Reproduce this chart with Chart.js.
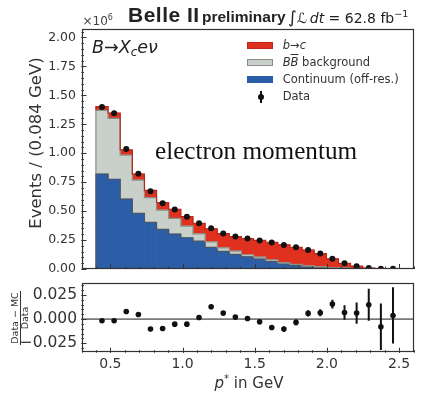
<!DOCTYPE html>
<html><head><meta charset="utf-8">
<script src="https://cdn.jsdelivr.net/npm/chart.js@4.4.0/dist/chart.umd.min.js"></script>
<style>
html,body{margin:0;padding:0;background:#fff;}
#wrap{position:relative;width:425px;height:394px;overflow:hidden;font-family:'DejaVu Sans',sans-serif;color:#333;}
canvas{position:absolute;left:0;}
.t{position:absolute;white-space:nowrap;line-height:1;}
.sw{position:absolute;width:26px;height:7px;box-sizing:border-box;}
.rot{position:absolute;white-space:nowrap;line-height:1;transform:translate(-50%,-50%) rotate(-90deg);}
</style></head><body>
<div id="wrap">
<canvas id="main" width="425" height="276" style="top:0;width:425px;height:276px"></canvas>
<canvas id="ratio" width="425" height="118" style="top:276px;width:425px;height:118px"></canvas>

<div class="t" style="left:82.5px;top:13.8px;font-size:12px;color:#444">×10<sup style="font-size:8px;vertical-align:5px">6</sup></div>
<div class="t" style="left:128px;top:4px;font-family:'Liberation Sans',Arial,sans-serif;font-weight:bold;font-size:21px;letter-spacing:0.5px;color:#222">Belle II</div>
<div class="t" style="left:202px;top:8.6px;font-family:'Liberation Sans',Arial,sans-serif;font-weight:bold;font-size:15.5px;color:#222">preliminary</div>
<div class="t" style="left:288px;top:9.2px;font-size:14px;color:#222"><span style="font-size:17px">∫</span><i>ℒ</i>&thinsp;<i>dt</i> = 62.8 fb<sup style="font-size:9.5px;vertical-align:6px">−1</sup></div>

<div class="t" style="left:92px;top:38.5px;font-size:17.5px;color:#222"><i>B</i>→<i>X</i><sub style="font-size:12px;vertical-align:-3px"><i>c</i></sub><i>eν</i></div>
<div class="t" style="left:155px;top:137.5px;font-family:'Liberation Serif','DejaVu Serif',serif;font-size:25.2px;color:#111">electron momentum</div>

<div class="sw" style="left:247px;top:41.5px;background:#e0301e;border:1px solid #c02a1a"></div>
<div class="sw" style="left:247px;top:58.8px;background:#c9d0c9;border:1px solid #8a8f8a"></div>
<div class="sw" style="left:247px;top:75.8px;background:#2b5ea7;border:1px solid #2b5ea7"></div>
<div style="position:absolute;left:259.5px;top:90.5px;width:2px;height:12.5px;background:#111"></div>
<div style="position:absolute;left:257.5px;top:93.7px;width:6px;height:6px;border-radius:50%;background:#111"></div>
<div class="t" style="left:282.7px;top:39.5px;font-size:11.5px"><i>b</i>→<i>c</i></div>
<div class="t" style="left:282.7px;top:56.8px;font-size:11.5px"><i>B</i><i style="text-decoration:overline">B</i> background</div>
<div class="t" style="left:282.7px;top:73.8px;font-size:11.5px">Continuum (off-res.)</div>
<div class="t" style="left:282.7px;top:91.2px;font-size:11.5px">Data</div>

<div class="rot" style="left:36px;top:143px;font-size:16.5px">Events / (0.084 GeV)</div>
<div class="rot" style="left:14.5px;top:318px;font-size:9.5px">Data − MC</div>
<div style="position:absolute;left:19.5px;top:291px;width:1px;height:54px;background:#333"></div>
<div class="rot" style="left:25px;top:318px;font-size:9.5px">Data</div>
<div class="t" style="left:249px;top:374px;font-size:15px;transform:translateX(-50%)"><i>p</i><sup style="font-size:10px;vertical-align:6px">*</sup> in GeV</div>
</div>

<script>
// ---- data (×10^6 events per 0.084 GeV bin) ----
const binCenters = [0.442, 0.526, 0.610, 0.694, 0.778, 0.862, 0.946, 1.030, 1.114, 1.198, 1.282, 1.366, 1.450,
                    1.534, 1.618, 1.702, 1.786, 1.870, 1.954, 2.038, 2.122, 2.206, 2.290, 2.374, 2.458];
const continuum = [0.820, 0.775, 0.604, 0.480, 0.403, 0.342, 0.301, 0.270, 0.240, 0.187, 0.153, 0.127, 0.105,
                   0.086, 0.063, 0.043, 0.029, 0.018, 0.012, 0.008, 0.005, 0.003, 0.0015, 0.0007, 0.0004];
const bbBackground = [0.550, 0.525, 0.380, 0.288, 0.213, 0.167, 0.136, 0.100, 0.063, 0.048, 0.030, 0.027, 0.018,
                      0.016, 0.015, 0.012, 0.011, 0.009, 0.006, 0.004, 0.002, 0.001, 0.0005, 0.0003, 0.0002];
const bToC = [0.032, 0.047, 0.044, 0.051, 0.063, 0.064, 0.079, 0.083, 0.092, 0.112, 0.122, 0.126, 0.140,
              0.145, 0.153, 0.154, 0.148, 0.136, 0.114, 0.075, 0.042, 0.020, 0.006, 0.002, 0.001];
const dataCounts = [1.400, 1.345, 1.036, 0.823, 0.672, 0.567, 0.513, 0.451, 0.396, 0.351, 0.307, 0.281, 0.263,
                    0.246, 0.229, 0.207, 0.187, 0.164, 0.133, 0.088, 0.049, 0.024, 0.008, 0.003, 0.0015];
const ratioValues = [-0.0017, -0.0017, 0.0079, 0.0048, -0.0103, -0.0097, -0.0052, -0.0052, 0.0017, 0.0128, 0.0062, 0.0021, 0.0007,
                     -0.0028, -0.0086, -0.0103, -0.0034, 0.0059, 0.0066, 0.0155, 0.0069, 0.0062, 0.0148, -0.0079, 0.0038];
const ratioErrors = [0.0010, 0.0010, 0.0012, 0.0013, 0.0014, 0.0015, 0.0016, 0.0017, 0.0018, 0.0020, 0.0021, 0.0022, 0.0023,
                     0.0025, 0.0026, 0.0027, 0.0029, 0.0032, 0.0036, 0.0045, 0.0075, 0.0110, 0.0165, 0.0240, 0.0290];

const xTickValues = [0.5, 1.0, 1.5, 2.0, 2.5];
const xTickLabels = ['0.5', '1.0', '1.5', '2.0', '2.5'];
const yTickValues = [0, 0.25, 0.5, 0.75, 1.0, 1.25, 1.5, 1.75, 2.0];
const yTickLabels = ['0.00', '0.25', '0.50', '0.75', '1.00', '1.25', '1.50', '1.75', '2.00'];
const ratioTickValues = [-0.025, 0, 0.025];
const ratioTickLabels = ['\u22120.025', '0.000', '0.025'];

const COL = { red: '#e0301e', redEdge: '#b8281a', gray: '#c9d0c9', grayEdge: '#8a8f8a', blue: '#2b5ea7', blueEdge: '#4a5566' };
const FONT = 'DejaVu Sans';

function range(a, b, step) { const out = []; for (let v = a; v <= b + 1e-9; v += step) out.push(+v.toFixed(6)); return out; }
function noPad(s) { s.paddingTop = 0; s.paddingBottom = 0; s.paddingLeft = 0; s.paddingRight = 0; }

const frameTicks = {
  id: 'frameTicks',
  afterDraw(chart, args, o) {
    const { ctx, chartArea: a, scales } = chart;
    ctx.save();
    ctx.strokeStyle = '#333'; ctx.lineWidth = 1;
    const seg = (x1, y1, x2, y2) => { ctx.beginPath(); ctx.moveTo(x1, y1); ctx.lineTo(x2, y2); ctx.stroke(); };
    o.xMinor.forEach(v => { const p = Math.round(scales.x.getPixelForValue(v)) + 0.5; seg(p, a.bottom, p, a.bottom - 2.5); });
    o.xMajor.forEach(v => { const p = Math.round(scales.x.getPixelForValue(v)) + 0.5; seg(p, a.bottom, p, a.bottom - 5); });
    o.yMinor.forEach(v => { const p = Math.round(scales.y.getPixelForValue(v)) + 0.5; seg(a.left, p, a.left + 2.5, p); });
    o.yMajor.forEach(v => { const p = Math.round(scales.y.getPixelForValue(v)) + 0.5; seg(a.left, p, a.left + 5, p); });
    ctx.lineWidth = 1.2;
    ctx.strokeRect(Math.round(a.left) + 0.5, Math.round(a.top) + 0.5, Math.round(a.width) - 1, Math.round(a.height) - 1);
    ctx.restore();
  }
};

const stepOutlines = {
  id: 'stepOutlines',
  beforeDatasetDraw(chart, args) {
    if (args.meta.type !== 'scatter') return;
    const ctx = chart.ctx;
    const edges = [COL.blueEdge, COL.grayEdge, COL.redEdge];
    ctx.save();
    ctx.beginPath();
    const a = chart.chartArea; ctx.rect(a.left, a.top, a.width, a.height); ctx.clip();
    for (let d = 0; d < 3; d++) {
      const els = chart.getDatasetMeta(d).data;
      ctx.strokeStyle = edges[d]; ctx.lineWidth = 1.2;
      ctx.beginPath();
      els.forEach((el, i) => {
        const p = el.getProps(['x', 'y', 'base', 'width'], true);
        const l = p.x - p.width / 2, r = p.x + p.width / 2;
        if (i === 0) { ctx.moveTo(l, p.base); ctx.lineTo(l, p.y); } else { ctx.lineTo(l, p.y); }
        ctx.lineTo(r, p.y);
        if (i === els.length - 1) ctx.lineTo(r, p.base);
      });
      ctx.stroke();
    }
    ctx.restore();
  }
};

const errorBars = {
  id: 'errorBars',
  beforeDatasetsDraw(chart) {
    const { ctx, chartArea: a, scales } = chart;
    ctx.save();
    ctx.strokeStyle = '#7a7a7a'; ctx.lineWidth = 1.6;
    const y0 = scales.y.getPixelForValue(0);
    ctx.beginPath(); ctx.moveTo(a.left, y0); ctx.lineTo(a.right, y0); ctx.stroke();
    ctx.beginPath(); ctx.rect(a.left, a.top, a.width, a.height); ctx.clip();
    ctx.strokeStyle = '#111'; ctx.lineWidth = 2;
    binCenters.forEach((x, i) => {
      const px = scales.x.getPixelForValue(x);
      ctx.beginPath();
      ctx.moveTo(px, scales.y.getPixelForValue(ratioValues[i] - ratioErrors[i]));
      ctx.lineTo(px, scales.y.getPixelForValue(ratioValues[i] + ratioErrors[i]));
      ctx.stroke();
    });
    ctx.restore();
  }
};

const barCommon = { type: 'bar', borderWidth: 0, barPercentage: 1, categoryPercentage: 1 };

new Chart(document.getElementById('main'), {
  data: {
    datasets: [
      { ...barCommon, label: 'Continuum (off-res.)', data: binCenters.map((x, i) => ({ x, y: continuum[i] })), backgroundColor: COL.blue },
      { ...barCommon, label: 'BB background', data: binCenters.map((x, i) => ({ x, y: bbBackground[i] })), backgroundColor: COL.gray },
      { ...barCommon, label: 'b→c', data: binCenters.map((x, i) => ({ x, y: bToC[i] })), backgroundColor: COL.red },
      { type: 'scatter', label: 'Data', order: -1, data: binCenters.map((x, i) => ({ x, y: dataCounts[i] })),
        pointRadius: 3, pointBackgroundColor: '#111', pointBorderWidth: 0, showLine: false }
    ]
  },
  options: {
    responsive: false, animation: false, events: [],
    layout: { padding: { left: 0, right: 11.5, top: 29.3, bottom: 0 } },
    plugins: { legend: { display: false }, tooltip: { enabled: false },
      frameTicks: { xMajor: xTickValues, xMinor: range(0.3, 2.6, 0.1), yMajor: yTickValues, yMinor: range(0, 2.05, 0.05) } },
    scales: {
      x: { type: 'linear', min: 0.3, max: 2.6, offset: false, stacked: true, ticks: { display: false }, grid: { display: false, offset: false }, border: { display: false },
           afterFit: s => { s.height = 7; noPad(s); } },
      y: { stacked: true, min: 0, max: 2.07,
           afterBuildTicks: s => { s.ticks = yTickValues.map(v => ({ value: v })); },
           ticks: { callback: (v, i) => yTickLabels[i], font: { family: FONT, size: 12.5 }, color: '#333', padding: 5.5 },
           grid: { display: false, drawTicks: false }, border: { display: false },
           afterFit: s => { s.width = 81.5; noPad(s); } }
    }
  },
  plugins: [frameTicks, stepOutlines]
});

new Chart(document.getElementById('ratio'), {
  type: 'scatter',
  data: {
    datasets: [
      { label: '(Data−MC)/Data', data: binCenters.map((x, i) => ({ x, y: ratioValues[i] })),
        pointRadius: 2.8, pointBackgroundColor: '#111', pointBorderWidth: 0 }
    ]
  },
  options: {
    responsive: false, animation: false, events: [],
    layout: { padding: { left: 0, right: 11.5, top: 7.3, bottom: 0 } },
    plugins: { legend: { display: false }, tooltip: { enabled: false },
      frameTicks: { xMajor: xTickValues, xMinor: range(0.3, 2.6, 0.1), yMajor: ratioTickValues, yMinor: range(-0.03, 0.035, 0.005) } },
    scales: {
      x: { type: 'linear', min: 0.3, max: 2.6, offset: false,
           afterBuildTicks: s => { s.ticks = xTickValues.map(v => ({ value: v })); },
           ticks: { callback: (v, i) => xTickLabels[i], font: { family: FONT, size: 14 }, color: '#333', padding: 3, maxRotation: 0 },
           grid: { display: false, drawTicks: false }, border: { display: false },
           afterFit: s => { s.height = 41.3; noPad(s); } },
      y: { min: -0.0347, max: 0.037,
           afterBuildTicks: s => { s.ticks = ratioTickValues.map(v => ({ value: v })); },
           ticks: { callback: (v, i) => ratioTickLabels[i], font: { family: FONT, size: 15.5 }, color: '#333', padding: 4.5 },
           grid: { display: false, drawTicks: false }, border: { display: false },
           afterFit: s => { s.width = 81.5; noPad(s); } }
    }
  },
  plugins: [frameTicks, errorBars]
});
</script>
</body></html>
